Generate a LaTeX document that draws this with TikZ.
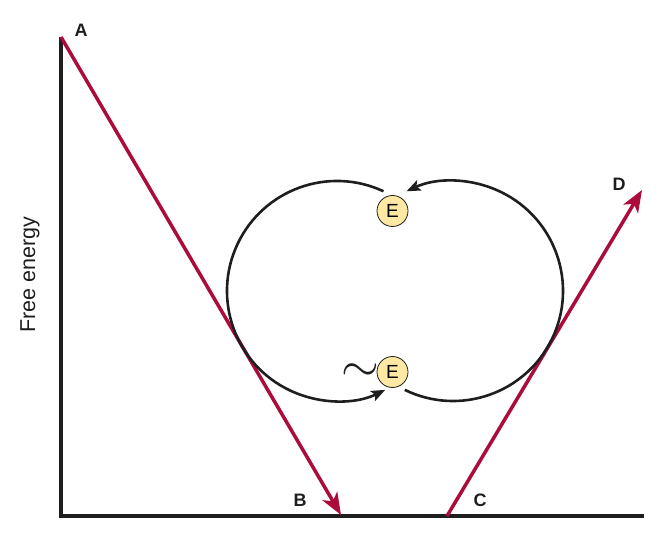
\documentclass[tikz,border=0pt]{standalone}
\usepackage{fontspec}
\setmainfont{Liberation Sans}
\usepackage{tikz}
\usetikzlibrary{positioning, arrows.meta}
\definecolor{crimson}{RGB}{172,12,58}
\definecolor{enzyme}{RGB}{253,232,164}
\definecolor{ink}{RGB}{30,30,30}
\tikzset{
	axisline/.style={
		line width=3.3pt,
		draw=ink,
	},
	reaction/.style={
		line width=3.5pt,
		draw=crimson,
		-{Stealth[length=22pt,width=17pt,inset=6pt]},
	},
	loopline/.style={
		line width=2.6pt,
		draw=ink,
	},
	labe/.style={
		font={\fontsize{18}{20}\selectfont\bfseries},
		text=ink,
		inner sep=0pt,
	},
	enz/.style={
		circle,
		draw=ink,
		line width=0.8pt,
		fill=enzyme,
		minimum size=31pt,
		inner sep=0pt,
		font={\fontsize{19}{20}\selectfont},
	},
}

\begin{document}
\begin{tikzpicture}[x=1pt, y=1pt]

\useasboundingbox (0,0) rectangle (663,535);

% axes
\coordinate (o) at (61,19);
\coordinate (ytop) at (61,498);
\coordinate (xend) at (644,19);
\draw[axisline] (ytop) -- (o) -- (xend);

\node(ylab)[rotate=90, font={\fontsize{21.5}{23}\selectfont}, text=ink] at (30,260) {Free energy};

% reaction lines
\coordinate (a) at (61,498);
\coordinate (b) at (341,20);
\coordinate (c) at (447,19);
\coordinate (d) at (642,345);
\draw[reaction] (a) -- (b);
\draw[reaction] (c) -- (d);

\node(lblA)[labe] at (81,505) {A};
\node(lblB)[labe] at (300,35) {B};
\node(lblC)[labe] at (480,35) {C};
\node(lblD)[labe] at (619,351) {D};

% coupled cycle
\coordinate (lc) at (337,244);
\coordinate (rc) at (453,244);
\draw[loopline, -{Stealth[length=14pt,width=11pt,inset=3pt]}]
	([shift={(65:110)}]lc) arc[start angle=65, end angle=296, radius=110];
\draw[loopline, -{Stealth[length=14pt,width=11pt,inset=3pt]}]
	([shift={(244:110)}]rc) arc[start angle=244, end angle=475, radius=110];

\node(etop)[enz] at (392.5,324) {E};
\node(ebot)[enz] at (392.5,163) {E};
\node(tilde)[inner sep=0pt, font=\Huge, scale=1.95, text=ink] at (360,162) {$\sim$};

\end{tikzpicture}
\end{document}
